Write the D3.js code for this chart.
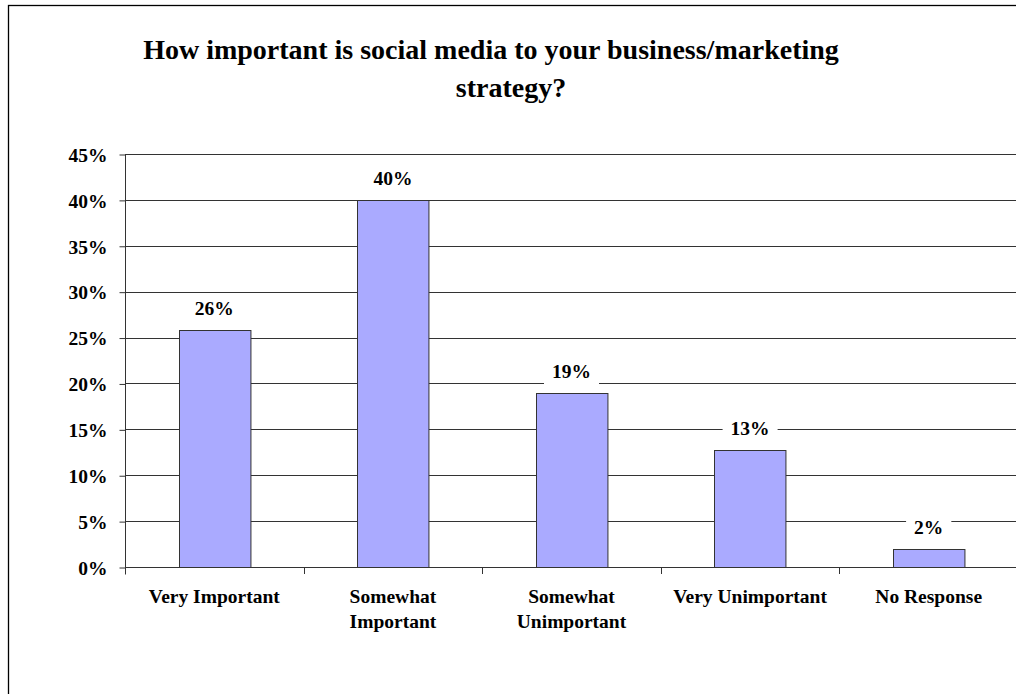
<!DOCTYPE html>
<html><head><meta charset="utf-8">
<script src="https://cdn.jsdelivr.net/npm/d3@7"></script>
<style>
html,body{margin:0;padding:0;background:#fff;}
svg{display:block;}
text{font-family:"Liberation Serif","Times New Roman",serif;font-weight:bold;fill:#000;}
</style></head>
<body>
<script>
const categories = [["Very Important"], ["Somewhat", "Important"], ["Somewhat", "Unimportant"], ["Very Unimportant"], ["No Response"]];
const values = [25.8, 40, 19, 12.8, 2];
const valueLabels = ["26%", "40%", "19%", "13%", "2%"];
const yTicks = [0, 5, 10, 15, 20, 25, 30, 35, 40, 45];
const titleLines = ["How important is social media to your business/marketing", "strategy?"];

const W = 1016, H = 694;
const svg = d3.select("body").append("svg").attr("width", W).attr("height", H);

svg.append("rect").attr("x", 8.5).attr("y", 5.5).attr("width", 1100).attr("height", 900)
  .attr("fill", "#fff").attr("stroke", "#000").attr("stroke-width", 1.3);

const x = d3.scaleBand().domain(d3.range(categories.length)).range([125, 1018]).paddingInner(0.6).paddingOuter(0.3);
const xb = d3.scaleBand().domain(d3.range(categories.length)).range([125, 1018]);
const y = d3.scaleLinear().domain([0, 45]).range([567, 154]);

// gridlines
svg.append("g").selectAll("line").data(yTicks.filter(d => d > 0)).join("line")
  .attr("x1", 125).attr("x2", 1018)
  .attr("y1", d => Math.round(y(d)) + 0.5).attr("y2", d => Math.round(y(d)) + 0.5)
  .attr("stroke", "#333").attr("stroke-width", 1);

// y axis
const yAxis = d3.axisLeft(y).tickValues(yTicks).tickFormat(d => d + "%").tickSize(6).tickPadding(12);
const gy = svg.append("g").attr("transform", "translate(125.5,0.5)").call(yAxis);
gy.select(".domain").attr("stroke", "#333").attr("d", "M0," + (y(45)) + "V" + (y(0) + 7));
gy.selectAll(".tick line").attr("stroke", "#333");
gy.selectAll("text").style("font-size", "19.5px").style("font-family", '"Liberation Serif",serif').style("font-weight", "bold").attr("dy", "0.35em");

// bars
svg.append("g").selectAll("rect").data(values).join("rect")
  .attr("x", (d, i) => Math.round(x(i)) + 0.5)
  .attr("y", d => Math.round(y(d)) + 0.5)
  .attr("width", x.bandwidth())
  .attr("height", d => Math.round(y(0)) - Math.round(y(d)))
  .attr("fill", "#aaaaff").attr("stroke", "#333").attr("stroke-width", 1);

// x axis line + ticks
const gx = svg.append("g");
gx.append("line").attr("x1", 125).attr("x2", 1018).attr("y1", Math.round(y(0)) + 0.5).attr("y2", Math.round(y(0)) + 0.5).attr("stroke", "#333");
gx.selectAll("line.t").data(d3.range(1, categories.length + 1)).join("line").attr("class", "t")
  .attr("x1", i => Math.round(125 + i * xb.bandwidth()) + 0.5).attr("x2", i => Math.round(125 + i * xb.bandwidth()) + 0.5)
  .attr("y1", Math.round(y(0))).attr("y2", Math.round(y(0)) + 7).attr("stroke", "#333");

// x labels
const xl = svg.append("g").selectAll("text").data(categories).join("text")
  .attr("text-anchor", "middle").style("font-size", "19.5px");
xl.each(function (lines, i) {
  const t = d3.select(this);
  lines.forEach((l, j) => {
    t.append("tspan").attr("x", xb(i) + xb.bandwidth() / 2).attr("y", 603 + j * 25).text(l);
  });
});

// data labels with white background
const dl = svg.append("g").selectAll("g").data(values).join("g")
  .attr("transform", (d, i) => `translate(${x(i) + x.bandwidth() / 2},${Math.round(y(d)) - 15})`);
const bg = dl.append("rect").attr("fill", "#fff");
const tx = dl.append("text").attr("text-anchor", "middle").style("font-size", "19.5px").text((d, i) => valueLabels[i]);
tx.each(function (d, i) {
  const w = this.getComputedTextLength() + 16;
  d3.select(bg.nodes()[i]).attr("x", -w / 2).attr("y", -17).attr("width", w).attr("height", 23);
});

// title
svg.append("text").attr("x", 491).attr("y", 59).attr("text-anchor", "middle").style("font-size", "28px").text(titleLines[0]);
svg.append("text").attr("x", 511).attr("y", 97).attr("text-anchor", "middle").style("font-size", "28px").text(titleLines[1]);
</script>
</body></html>
